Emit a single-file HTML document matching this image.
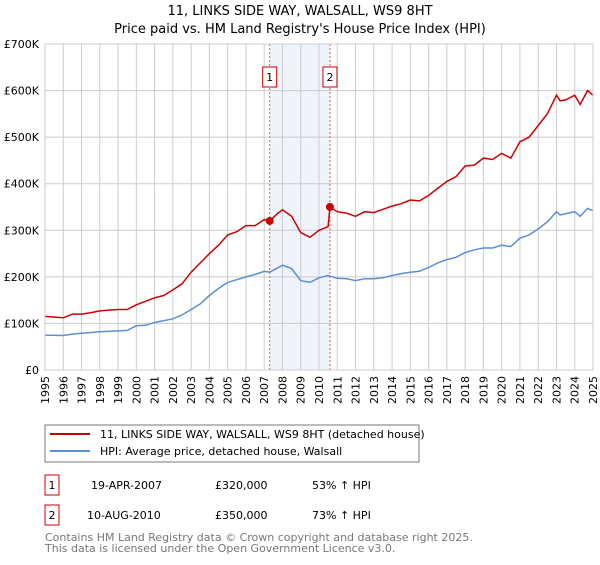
<!DOCTYPE html>
<html><head><meta charset="utf-8"><style>
body{margin:0;background:#fff;font-family:"Liberation Sans","DejaVu Sans",sans-serif;}
svg text{font-family:"DejaVu Sans","Liberation Sans",sans-serif;}
</style></head><body>
<svg id="c" width="600" height="560" xmlns="http://www.w3.org/2000/svg">
<text x="300" y="15" text-anchor="middle" font-size="13">11, LINKS SIDE WAY, WALSALL, WS9 8HT</text>
<text x="300" y="33" text-anchor="middle" font-size="13">Price paid vs. HM Land Registry's House Price Index (HPI)</text>
<g id="plot"></g>
<rect x="45" y="425" width="374" height="37" fill="#fff" stroke="#777"/>
<line x1="50" y1="434" x2="90" y2="434" stroke="#cc0000" stroke-width="2"/>
<text x="100" y="438" font-size="11">11, LINKS SIDE WAY, WALSALL, WS9 8HT (detached house)</text>
<line x1="50" y1="451" x2="90" y2="451" stroke="#5b8fd4" stroke-width="2"/>
<text x="100" y="455" font-size="11">HPI: Average price, detached house, Walsall</text>
<rect x="45" y="475" width="14" height="20" fill="#fff" stroke="#cc0000"/>
<text x="52" y="489" font-size="11" text-anchor="middle">1</text>
<text x="91" y="489" font-size="11">19-APR-2007</text>
<text x="215" y="489" font-size="11">£320,000</text>
<text x="312" y="489" font-size="11">53% ↑ HPI</text>
<rect x="45" y="505" width="14" height="20" fill="#fff" stroke="#cc0000"/>
<text x="52" y="519" font-size="11" text-anchor="middle">2</text>
<text x="87" y="519" font-size="11">10-AUG-2010</text>
<text x="215" y="519" font-size="11">£350,000</text>
<text x="312" y="519" font-size="11">73% ↑ HPI</text>
<text x="45" y="541" font-size="11" fill="#777">Contains HM Land Registry data © Crown copyright and database right 2025.</text>
<text x="45" y="552" font-size="11" fill="#777">This data is licensed under the Open Government Licence v3.0.</text>
</svg>
<script>
const yearTicks=[1995,1996,1997,1998,1999,2000,2001,2002,2003,2004,2005,2006,2007,2008,2009,2010,2011,2012,2013,2014,2015,2016,2017,2018,2019,2020,2021,2022,2023,2024,2025];
const valueTicks=[0,100000,200000,300000,400000,500000,600000,700000];
const valueTickLabels=["£0","£100K","£200K","£300K","£400K","£500K","£600K","£700K"];
const priceYears=[1995,1996,1996.5,1997,1997.5,1998,1999,1999.5,2000,2001,2001.5,2002,2002.5,2003,2003.5,2004,2004.5,2005,2005.5,2006,2006.5,2007,2007.3,2007.7,2008,2008.5,2009,2009.5,2010,2010.5,2010.6,2011,2011.5,2012,2012.5,2013,2013.5,2014,2014.5,2015,2015.5,2016,2016.5,2017,2017.5,2018,2018.5,2019,2019.5,2020,2020.5,2021,2021.5,2022,2022.5,2023,2023.2,2023.5,2024,2024.3,2024.7,2025];
const priceValues=[115,112,120,120,123,127,130,130,140,155,160,172,185,210,230,250,268,290,297,310,310,323,320,335,344,330,295,285,300,308,350,340,337,330,340,338,345,352,357,365,363,375,390,405,415,438,440,455,452,465,455,490,500,525,550,590,578,580,590,570,600,590];
const hpiYears=[1995,1996,1996.5,1997,1998,1999,1999.5,2000,2000.5,2001,2002,2002.5,2003,2003.5,2004,2004.5,2005,2005.5,2006,2006.5,2007,2007.3,2008,2008.5,2009,2009.5,2010,2010.5,2011,2011.5,2012,2012.5,2013,2013.5,2014,2014.5,2015,2015.5,2016,2016.5,2017,2017.5,2018,2018.5,2019,2019.5,2020,2020.5,2021,2021.5,2022,2022.5,2023,2023.2,2024,2024.3,2024.7,2025];
const hpiValues=[75,74,77,79,82,84,85,95,96,102,110,118,130,142,160,175,188,194,200,205,212,210,225,218,192,188,198,203,197,196,192,196,196,198,203,207,210,212,220,230,237,242,252,258,262,262,268,265,283,290,303,318,340,333,340,330,347,342];
const saleYears=[2007.3,2010.6];
const saleValues=[320,350];
const saleLabels=["1","2"];
const X0=45,X1=593,Y0=370,Y1=44;
const xs=y=>X0+(y-1995)/30*(X1-X0);
const ys=v=>Y0-v/700000*(Y0-Y1);
const NS="http://www.w3.org/2000/svg";
const g=document.getElementById('plot');
function mk(t,a){const e=document.createElementNS(NS,t);for(const k in a)e.setAttribute(k,a[k]);g.appendChild(e);return e;}
let sh=mk('rect',{x:xs(saleYears[0]),y:Y1,width:xs(saleYears[1])-xs(saleYears[0]),height:Y0-Y1,fill:'#eef3fc'});


yearTicks.forEach(yr=>{
 const l=mk('line',{x1:xs(yr),x2:xs(yr),y1:Y1,y2:Y0,stroke:'#ccc'});
 
 
 const t=mk('text',{x:0,y:0,'font-size':11,'text-anchor':'end',transform:`translate(${xs(yr)+4},${Y0+6}) rotate(-90)`});
 t.textContent=yr;
 
 
});
valueTicks.forEach((v,i)=>{
 const l=mk('line',{x1:X0,x2:X1,y1:ys(v),y2:ys(v),stroke:'#ccc'});
 
 
 const t=mk('text',{x:X0-6,y:ys(v)+4,'font-size':11,'text-anchor':'end'});
 t.textContent=valueTickLabels[i];
 
 
});
saleYears.forEach((yr,i)=>{
 const l=mk('line',{x1:xs(yr),x2:xs(yr),y1:Y1,y2:Y0,stroke:'#e55',"stroke-dasharray":'2,2'});
 
 
 const b=mk('rect',{x:xs(yr)-7,y:67,width:14,height:20,fill:'#fff',stroke:'#cc0000'});
 
 
 const t=mk('text',{x:xs(yr),y:81,'font-size':11,'text-anchor':'middle'});
 t.textContent=saleLabels[i];
 
 
});
function line(xa,va,col,name){
 const d=xa.map((x,i)=>(i?'L':'M')+xs(x).toFixed(1)+','+ys(va[i]*1000).toFixed(1)).join('');
 const p=mk('path',{d,fill:'none',stroke:col,'stroke-width':1.5});
 
 
}
line(hpiYears,hpiValues,'#5b8fd4','hpi-line');
line(priceYears,priceValues,'#cc0000','price-line');
saleYears.forEach((yr,i)=>{
 const c=mk('circle',{cx:xs(yr),cy:ys(saleValues[i]*1000),r:4,fill:'#cc0000'});
 
 
});
const ax=mk('rect',{x:X0,y:Y1,width:X1-X0,height:Y0-Y1,fill:'none',stroke:'#ccc'});


</script>
</body></html>
